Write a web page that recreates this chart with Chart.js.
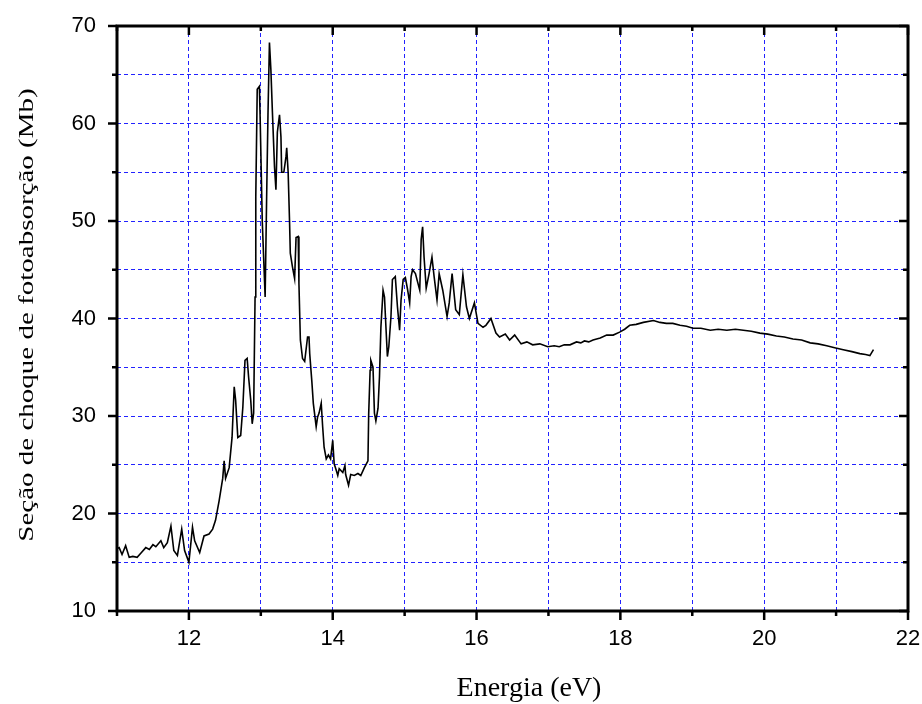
<!DOCTYPE html>
<html>
<head>
<meta charset="utf-8">
<script src="https://cdn.jsdelivr.net/npm/chart.js@4.4.1/dist/chart.umd.min.js"></script>
<style>
  body { margin: 0; background: #fff; }
  canvas { display: block; }
</style>
</head>
<body>
<canvas id="chart" width="922" height="704"></canvas>
<script>
// photon energy (eV) and photoabsorption cross section (Mb)
const energia = [
  11.00, 11.03, 11.07, 11.12, 11.17, 11.22, 11.28, 11.34, 11.40, 11.45,
  11.50, 11.54, 11.61, 11.65, 11.70, 11.75, 11.79, 11.84, 11.90, 11.94,
  11.98, 12.00, 12.05, 12.08, 12.15, 12.21, 12.28, 12.33, 12.37, 12.42,
  12.47, 12.49, 12.51, 12.56, 12.60, 12.63, 12.65, 12.68, 12.72, 12.75,
  12.78, 12.81, 12.83, 12.86, 12.88, 12.90, 12.92, 12.93, 12.95, 12.98,
  12.99, 13.02, 13.06, 13.08, 13.10, 13.12, 13.14, 13.16, 13.19, 13.21,
  13.23, 13.26, 13.28, 13.29, 13.32, 13.35, 13.36, 13.38, 13.40, 13.41,
  13.44, 13.47, 13.49, 13.52, 13.53, 13.55, 13.58, 13.61, 13.65, 13.67,
  13.68, 13.71, 13.73, 13.77, 13.79, 13.81, 13.84, 13.86, 13.88, 13.91,
  13.94, 13.97, 14.00, 14.02, 14.05, 14.07, 14.09, 14.14, 14.17, 14.18,
  14.22, 14.25, 14.30, 14.35, 14.39, 14.44, 14.49, 14.50, 14.52, 14.53,
  14.56, 14.58, 14.60, 14.63, 14.65, 14.67, 14.70, 14.72, 14.74, 14.76,
  14.78, 14.81, 14.83, 14.87, 14.90, 14.93, 14.95, 14.98, 15.01, 15.04,
  15.07, 15.09, 15.11, 15.15, 15.21, 15.23, 15.25, 15.27, 15.30, 15.34,
  15.38, 15.41, 15.45, 15.48, 15.53, 15.59, 15.62, 15.66, 15.71, 15.76,
  15.81, 15.86, 15.90, 15.97, 16.02, 16.09, 16.13, 16.20, 16.27, 16.32,
  16.40, 16.46, 16.53, 16.62, 16.70, 16.78, 16.88, 16.99, 17.08, 17.15,
  17.22, 17.30, 17.39, 17.45, 17.50, 17.56, 17.62, 17.72, 17.81, 17.90,
  17.99, 18.06, 18.13, 18.22, 18.32, 18.46, 18.55, 18.64, 18.73, 18.83,
  18.92, 19.01, 19.12, 19.25, 19.36, 19.48, 19.60, 19.71, 19.82, 19.94,
  20.05, 20.17, 20.28, 20.40, 20.52, 20.64, 20.75, 20.87, 20.98, 21.10,
  21.22, 21.33, 21.41, 21.47, 21.52
];
const secao = [
  16.4, 16.5, 15.8, 16.7, 15.5, 15.6, 15.5, 16.0, 16.5, 16.3,
  16.8, 16.6, 17.2, 16.5, 17.0, 18.7, 16.2, 15.7, 18.4, 16.2,
  15.4, 15.0, 18.6, 17.2, 16.0, 17.7, 17.9, 18.4, 19.3, 21.3,
  23.6, 25.4, 23.6, 24.7, 27.8, 33.0, 31.6, 27.8, 28.0, 30.9,
  35.7, 35.9, 34.0, 31.6, 29.2, 30.3, 42.2, 52.5, 63.5, 63.8,
  60.8, 50.0, 42.2, 52.0, 61.1, 68.3, 65.5, 61.4, 55.6, 53.2,
  59.1, 60.9, 58.6, 55.0, 55.0, 56.6, 57.5, 55.0, 49.8, 46.7,
  45.3, 44.1, 48.3, 48.4, 43.6, 37.8, 35.9, 35.6, 38.1, 38.1,
  36.4, 33.5, 31.3, 28.9, 29.9, 30.3, 31.3, 28.9, 26.8, 25.6,
  26.0, 25.6, 27.5, 25.1, 24.4, 23.9, 24.6, 24.2, 24.9, 24.0,
  22.9, 24.0, 23.9, 24.1, 23.9, 24.7, 25.4, 30.2, 34.7, 35.7,
  35.0, 30.3, 29.5, 30.8, 34.0, 39.1, 42.9, 42.2, 39.1, 36.1,
  37.1, 40.2, 44.0, 44.3, 41.2, 38.8, 41.9, 44.0, 44.2, 43.0,
  41.6, 44.3, 45.0, 44.6, 42.9, 48.1, 49.4, 46.3, 43.1, 44.6,
  46.3, 44.3, 41.9, 44.6, 42.9, 40.2, 41.6, 44.6, 40.9, 40.4,
  44.5, 41.2, 40.0, 41.6, 39.5, 39.1, 39.3, 40.0, 38.5, 38.1,
  38.4, 37.8, 38.3, 37.4, 37.6, 37.3, 37.4, 37.1, 37.2, 37.1,
  37.3, 37.3, 37.6, 37.5, 37.7, 37.6, 37.8, 38.0, 38.3, 38.3,
  38.6, 38.9, 39.3, 39.4, 39.6, 39.8, 39.6, 39.5, 39.5, 39.3,
  39.2, 39.0, 39.0, 38.8, 38.9, 38.8, 38.9, 38.8, 38.7, 38.5,
  38.4, 38.2, 38.1, 37.9, 37.8, 37.5, 37.4, 37.2, 37.0, 36.8,
  36.6, 36.4, 36.3, 36.2, 36.8
];

// axis ranges
const xMin = 11, xMax = 22, xStep = 1;
const yMin = 10, yMax = 70, yStep = 5;

const xTitle = 'Energia (eV)';
const yTitle = 'Seção de choque de fotoabsorção (Mb)';

const gridBlue = '#2222ff';

// thick frame with major/minor ticks, outward on left/bottom and inward on right/top
const framePlugin = {
  id: 'frame',
  afterDatasetsDraw(chart) {
    const { ctx, chartArea: a, scales } = chart;
    ctx.save();
    ctx.strokeStyle = '#000';
    ctx.lineWidth = 3;
    ctx.strokeRect(a.left, a.top, a.right - a.left, a.bottom - a.top);
    ctx.lineWidth = 2.5;
    ctx.beginPath();
    scales.x.ticks.forEach(t => {
      const px = scales.x.getPixelForValue(t.value);
      const len = t.value % 2 === 0 ? 9 : 5;
      ctx.moveTo(px, a.bottom); ctx.lineTo(px, a.bottom + len);
      ctx.moveTo(px, a.top); ctx.lineTo(px, a.top + len);
    });
    scales.y.ticks.forEach(t => {
      const py = scales.y.getPixelForValue(t.value);
      const len = t.value % 10 === 0 ? 9 : 5;
      ctx.moveTo(a.left, py); ctx.lineTo(a.left - len, py);
      ctx.moveTo(a.right, py); ctx.lineTo(a.right - len, py);
    });
    ctx.stroke();

    // axis titles
    ctx.fillStyle = '#000';
    ctx.textAlign = 'center';
    ctx.textBaseline = 'middle';
    ctx.font = '28px "Liberation Serif", "Times New Roman", serif';
    ctx.fillText(xTitle, 529, 689);

    ctx.translate(28, 315);
    ctx.rotate(-Math.PI / 2);
    ctx.scale(1, 0.72);
    ctx.font = '29px "Liberation Serif", "Times New Roman", serif';
    ctx.fillText(yTitle, 0, 0);
    ctx.restore();
  }
};

const innerGrid = (min, max) => ctx =>
  (ctx.tick && ctx.tick.value > min && ctx.tick.value < max) ? gridBlue : 'rgba(0,0,0,0)';

new Chart(document.getElementById('chart'), {
  type: 'line',
  data: {
    datasets: [{
      data: energia.map((e, i) => ({ x: e, y: secao[i] })),
      borderColor: '#000',
      borderWidth: 1.6,
      pointRadius: 0,
      tension: 0,
      fill: false
    }]
  },
  options: {
    responsive: false,
    animation: false,
    layout: { padding: { left: 0, right: 14, top: 26, bottom: 0 } },
    plugins: { legend: { display: false }, tooltip: { enabled: false } },
    scales: {
      x: {
        type: 'linear',
        min: xMin, max: xMax,
        afterFit: s => { s.height = 93; s.paddingLeft = 0; s.paddingRight = 0; },
        grid: { color: innerGrid(xMin, xMax), lineWidth: 1, drawTicks: false },
        border: { display: false, dash: [4, 3] },
        ticks: {
          stepSize: xStep, autoSkip: false, maxRotation: 0, padding: 15,
          color: '#000',
          font: { family: '"Liberation Sans", Arial, sans-serif', size: 22 },
          callback: v => (v % 2 === 0 ? v : '')
        }
      },
      y: {
        min: yMin, max: yMax,
        afterFit: s => { s.width = 117; s.paddingTop = 0; s.paddingBottom = 0; },
        grid: { color: innerGrid(yMin, yMax), lineWidth: 1, drawTicks: false },
        border: { display: false, dash: [4, 3] },
        ticks: {
          stepSize: yStep, padding: 21,
          color: '#000',
          font: { family: '"Liberation Sans", Arial, sans-serif', size: 22 },
          callback: v => (v % 10 === 0 ? v : '')
        }
      }
    }
  },
  plugins: [framePlugin]
});
</script>
</body>
</html>
